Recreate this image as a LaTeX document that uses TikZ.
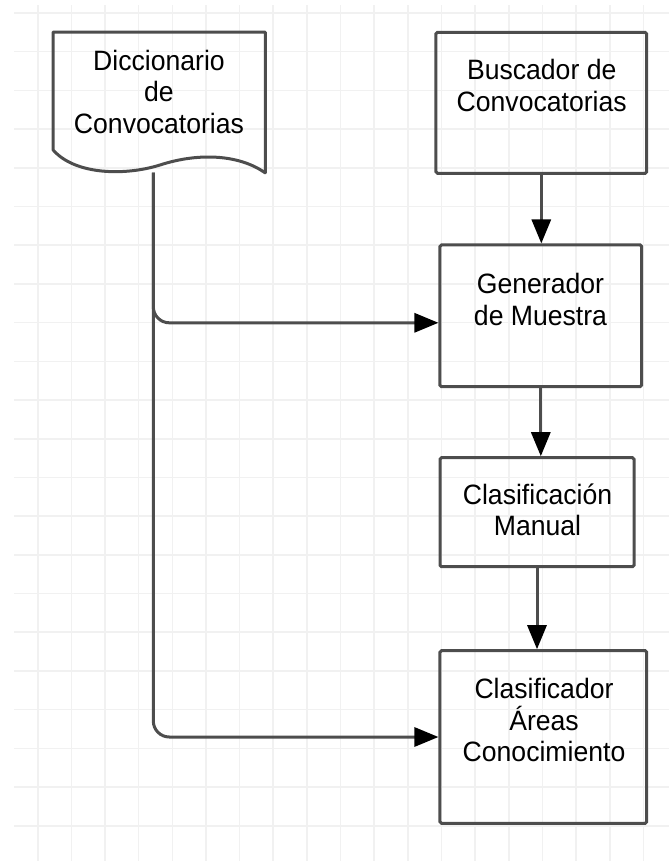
\documentclass[tikz,border=0pt]{standalone}
\usepackage{fontspec}
\setmainfont{Liberation Sans}[FakeStretch=0.95]
\usetikzlibrary{arrows.meta,positioning}

\definecolor{gridgray}{HTML}{F1F1F1}
\definecolor{edgegray}{HTML}{4D4D4D}

\tikzset{
    box/.style={draw=edgegray, line width=3pt, rounded corners=1.5pt, inner sep=0pt},
    txt/.style={anchor=north, align=center, inner sep=0pt, font=\fontsize{28}{31.5}\selectfont},
    flow/.style={draw=edgegray, line width=3pt, -{Triangle[length=24pt,width=19pt,color=black]}},
}

\begin{document}
\begin{tikzpicture}[x=1pt,y=-1pt]
    \useasboundingbox (0,0) rectangle (669,861);

    \foreach \k in {0,...,21}
        \draw[gridgray, line width=1.6pt] (14,13+38.7*\k) -- (669,13+38.7*\k);
    \foreach \k in {0,...,18}
        \draw[gridgray, line width=1.6pt] (37.7+33.65*\k,5) -- (37.7+33.65*\k,861);

    \node[minimum width=211.7pt, minimum height=140.4pt, inner sep=0pt] (dicc) at (159.2,102.5) {};
    \draw[edgegray, line width=3pt, line join=round] (dicc.north west) -- (dicc.north east) -- (dicc.south east)
        .. controls (240,155) and (200,152) .. (160,165)
        .. controls (125,176) and (75,175) .. (dicc.west |- 0,150) -- cycle;
    \node[txt] (dicctxt) at (159,50) {Diccionario\\de\\Convocatorias};

    \node[box, minimum width=210.7pt, minimum height=141pt] (bus) at (541.3,102.8) {};
    \node[txt] (bustxt) at (541.7,59.3) {Buscador de\\Convocatorias};

    \node[box, minimum width=201.7pt, minimum height=141.7pt] (gen) at (540.8,315.8) {};
    \node[txt] (gentxt) at (540.5,273.3) {Generador\\de Muestra};

    \node[box, minimum width=194pt, minimum height=109pt] (cman) at (537,512.2) {};
    \node[txt] (cmantxt) at (537.5,483.3) {Clasificación\\Manual};

    \node[box, minimum width=206.7pt, minimum height=172.6pt] (clf) at (543.3,737) {};
    \node[txt] (clftxt) at (544,678.3) {Clasificador\\Áreas\\Conocimiento};

    \coordinate (dictout) at (153.3,172.7);

    \draw[flow] (bus.south) -- (bus.south |- gen.north);
    \draw[flow] (gen.south) -- (gen.south |- cman.north);
    \draw[flow] (cman.south) -- (cman.south |- clf.north);
    \draw[flow, rounded corners=16pt] (dictout) |- ([yshift=-7pt]gen.west);
    \draw[flow, rounded corners=16pt] (dictout) |- (clf.west);
\end{tikzpicture}
\end{document}
